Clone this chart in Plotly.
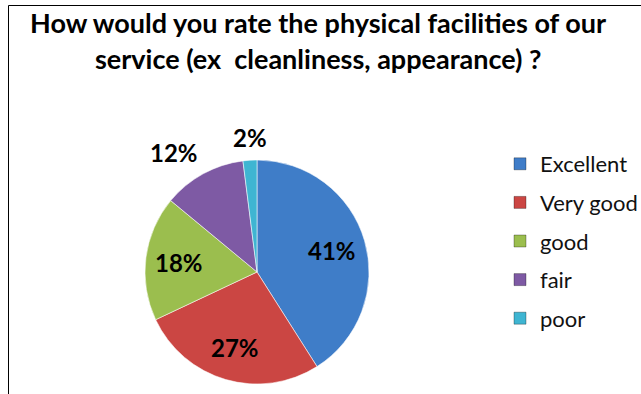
import math
import plotly.graph_objects as go

# Survey answers and their shares (percent)
categories = ["Excellent", "Very good", "good", "fair", "poor"]
shares = [41, 27, 18, 12, 2]
label_positions = ["inside", "inside", "inside", "outside", "outside"]
slice_colors = ["#3F7DC8", "#CB4643", "#9BBE4E", "#7E5AA4", "#3FB5D2"]

title_lines = [
    "How would you rate the physical facilities of our",
    "service (ex\u00a0 cleanliness, appearance) ?",
]

W, H = 641, 394
cx, cy, r = 257, 272, 112  # pie centre and radius in pixels


def px_x(x):
    return x / W


def px_y(y):
    return 1 - y / H


fig = go.Figure()

fig.add_trace(go.Pie(
    labels=categories,
    values=shares,
    sort=False,
    direction="clockwise",
    rotation=0,
    marker=dict(colors=slice_colors,
                line=dict(color="rgba(255,255,255,0.55)", width=1)),
    textinfo="none",
    domain=dict(x=[px_x(cx - r), px_x(cx + r)], y=[px_y(cy + r), px_y(cy - r)]),
    showlegend=False,
    hoverinfo="label+percent",
))

# Percentage labels placed along each slice's mid-angle
label_font = dict(family="Lato", size=24, color="black", weight="bold")
total = sum(shares)
annotations = []
before = 0
for value, where in zip(shares, label_positions):
    mid = 2 * math.pi * (before + value / 2) / total
    before += value
    sx, sy = math.sin(mid), -math.cos(mid)
    if where == "inside":
        dist = 0.7 * r
        xa, ya = "center", "middle"
    else:
        dist = r + 6
        xa = "right" if sx < -0.1 else ("left" if sx > 0.1 else "center")
        ya = "bottom" if sy < -0.1 else ("top" if sy > 0.1 else "middle")
    annotations.append(dict(
        text=f"{round(100 * value / total)}%",
        x=px_x(cx + dist * sx), y=px_y(cy + dist * sy),
        xref="paper", yref="paper", xanchor=xa, yanchor=ya,
        showarrow=False, font=label_font,
    ))

# Legend entries, one square marker per answer
for name, color in zip(categories, slice_colors):
    fig.add_trace(go.Scatter(
        x=[None], y=[None], mode="markers", name=name, legendgroup=name,
        marker=dict(symbol="square", size=12, color=color,
                    line=dict(color="rgba(0,0,0,0.3)", width=1)),
        hoverinfo="skip",
    ))

for text, yc in zip(title_lines, [22, 58]):
    annotations.append(dict(
        text=text, x=px_x(318), y=px_y(yc), xref="paper", yref="paper",
        xanchor="center", yanchor="middle", showarrow=False,
        font=dict(family="Lato", size=27, color="black", weight="bold"),
    ))

fig.update_layout(
    width=W, height=H,
    margin=dict(l=0, r=0, t=0, b=0, autoexpand=False),
    paper_bgcolor="white", plot_bgcolor="white",
    xaxis=dict(visible=False), yaxis=dict(visible=False),
    annotations=annotations,
    legend=dict(
        x=px_x(500), y=px_y(143), xanchor="left", yanchor="top",
        font=dict(family="Lato", size=22, color="#111111"),
        tracegroupgap=7, itemclick=False, itemdoubleclick=False,
    ),
    shapes=[
        dict(type="line", xref="paper", yref="paper",
             x0=px_x(8.5), x1=1, y0=px_y(5.5), y1=px_y(5.5),
             line=dict(color="black", width=1)),
        dict(type="line", xref="paper", yref="paper",
             x0=px_x(8.5), x1=px_x(8.5), y0=px_y(5.5), y1=0,
             line=dict(color="black", width=1)),
    ],
)

fig.write_html("out.html")
